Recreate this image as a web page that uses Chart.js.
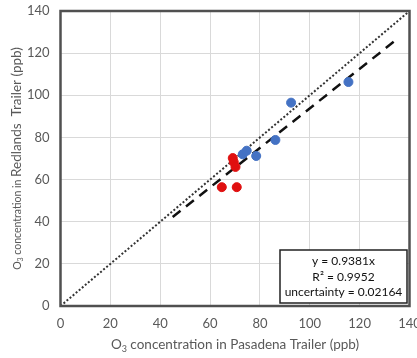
<!DOCTYPE html>
<html>
<head>
<meta charset="utf-8">
<script src="https://cdn.jsdelivr.net/npm/chart.js@4"></script>
<style>
  html, body { margin: 0; padding: 0; background: #fff; }
  #wrap { width: 417px; height: 358px; position: relative; }
</style>
</head>
<body>
<div id="wrap"><canvas id="c" width="417" height="358"></canvas></div>
<script>
// ---- data ----
const blueX = [73.1, 74.7, 78.5, 86.2, 92.5, 115.5];
const blueY = [72.0, 73.7, 71.2, 78.8, 96.5, 106.3];
const redX = [69.1, 69.5, 70.2, 64.7, 70.7];
const redY = [70.2, 68.3, 66.0, 56.4, 56.4];
const oneToOneX = [0, 140];
const fitSlope = 0.9381;
const fitXRange = [45, 134];
const xTicks = [0, 20, 40, 60, 80, 100, 120, 140];
const yTicks = [0, 20, 40, 60, 80, 100, 120, 140];
const statLines = ['y = 0.9381x', 'R\u00B2 = 0.9952', 'uncertainty = 0.02164'];

const FONT = 'Lato, "Open Sans", sans-serif';
const GRAY = '#595959';

const toPts = (xs, ys) => xs.map((x, i) => ({ x, y: ys[i] }));

const decorations = {
  id: 'decorations',
  afterDatasetsDraw(chart) {
    const ctx = chart.ctx;
    const a = chart.chartArea;
    ctx.save();
    ctx.strokeStyle = '#505050';
    ctx.lineWidth = 2.5;
    ctx.strokeRect(a.left, a.top, a.right - a.left, a.bottom - a.top);
    ctx.restore();
  },
  afterDraw(chart) {
    const ctx = chart.ctx;
    const a = chart.chartArea;
    ctx.save();
    ctx.fillStyle = GRAY;
    ctx.textBaseline = 'alphabetic';

    // x-axis title
    const big = '13.5px ' + FONT, sub = '9px ' + FONT;
    const partsX = [
      { t: 'O', f: big, dy: 0 },
      { t: '3', f: sub, dy: 3 },
      { t: ' concentration in Pasadena Trailer (ppb)', f: big, dy: 0 }
    ];
    let w = 0;
    partsX.forEach(p => { ctx.font = p.f; p.w = ctx.measureText(p.t).width; w += p.w; });
    let cx = (a.left + a.right) / 2 - w / 2;
    const by = 349;
    partsX.forEach(p => { ctx.font = p.f; ctx.fillText(p.t, cx, by + p.dy); cx += p.w; });

    // y-axis title, rotated
    const small = '10.5px ' + FONT, sub2 = '7px ' + FONT, big2 = '13.5px ' + FONT;
    const partsY = [
      { t: 'O', f: small, dy: 0 },
      { t: '3', f: sub2, dy: 2 },
      { t: ' concentration in ', f: small, dy: 0 },
      { t: 'Redlands  Trailer (ppb)', f: big2, dy: 0 }
    ];
    w = 0;
    partsY.forEach(p => { ctx.font = p.f; p.w = ctx.measureText(p.t).width; w += p.w; });
    ctx.translate(21, (a.top + a.bottom) / 2);
    ctx.rotate(-Math.PI / 2);
    cx = -w / 2;
    partsY.forEach(p => { ctx.font = p.f; ctx.fillText(p.t, cx, p.dy); cx += p.w; });
    ctx.restore();

    // statistics box
    ctx.save();
    const bx = 280, bw = 127, bTop = 250, bh = 53;
    ctx.fillStyle = '#fff';
    ctx.fillRect(bx, bTop, bw, bh);
    ctx.strokeStyle = '#222';
    ctx.lineWidth = 1.5;
    ctx.strokeRect(bx, bTop, bw, bh);
    ctx.fillStyle = '#111';
    ctx.font = '12px ' + FONT;
    ctx.textAlign = 'center';
    ctx.textBaseline = 'middle';
    statLines.forEach((s, i) => ctx.fillText(s, bx + bw / 2, bTop + 11.5 + i * 15.5));
    ctx.restore();
  }
};

const whiteBg = {
  id: 'whiteBg',
  beforeDraw(chart) {
    const ctx = chart.ctx;
    ctx.save();
    ctx.fillStyle = '#fff';
    ctx.fillRect(0, 0, chart.width, chart.height);
    ctx.restore();
  }
};

new Chart(document.getElementById('c'), {
  type: 'scatter',
  data: {
    datasets: [
      {
        label: 'Pasadena vs Redlands (blue)',
        data: toPts(blueX, blueY),
        backgroundColor: '#4472C4',
        borderColor: '#4472C4',
        pointRadius: 4.5,
        order: 0
      },
      {
        label: 'Pasadena vs Redlands (red)',
        data: toPts(redX, redY),
        backgroundColor: '#E01010',
        borderColor: '#E01010',
        pointRadius: 4.5,
        order: 0
      },
      {
        label: '1:1',
        type: 'line',
        data: toPts(oneToOneX, oneToOneX),
        borderColor: '#333',
        borderWidth: 2,
        borderDash: [2, 2],
        pointRadius: 0,
        fill: false,
        order: 2
      },
      {
        label: 'fit',
        type: 'line',
        data: toPts(fitXRange, fitXRange.map(x => fitSlope * x)),
        borderColor: '#111',
        borderWidth: 2.5,
        borderDash: [10, 7],
        pointRadius: 0,
        fill: false,
        order: 1
      }
    ]
  },
  options: {
    responsive: false,
    animation: false,
    devicePixelRatio: 1,
    layout: { padding: { top: 11, right: 7.5, left: 0, bottom: 0 } },
    plugins: { legend: { display: false }, tooltip: { enabled: false } },
    scales: {
      x: {
        type: 'linear',
        min: 0, max: 140,
        afterBuildTicks: s => { s.ticks = xTicks.map(v => ({ value: v })); },
        afterFit: s => { s.height = 52; s.paddingLeft = 0; s.paddingRight = 0; },
        grid: { color: '#d9d9d9', lineWidth: 1, drawTicks: false },
        border: { display: false },
        ticks: { color: GRAY, font: { family: FONT, size: 13 }, padding: 10, maxRotation: 0 }
      },
      y: {
        type: 'linear',
        min: 0, max: 140,
        afterBuildTicks: s => { s.ticks = yTicks.map(v => ({ value: v })); },
        afterFit: s => { s.width = 60.5; s.paddingTop = 0; s.paddingBottom = 0; },
        grid: { color: '#d9d9d9', lineWidth: 1, drawTicks: false },
        border: { display: false },
        ticks: { color: GRAY, font: { family: FONT, size: 13 }, padding: 11 }
      }
    }
  },
  plugins: [whiteBg, decorations]
});
</script>
</body>
</html>
